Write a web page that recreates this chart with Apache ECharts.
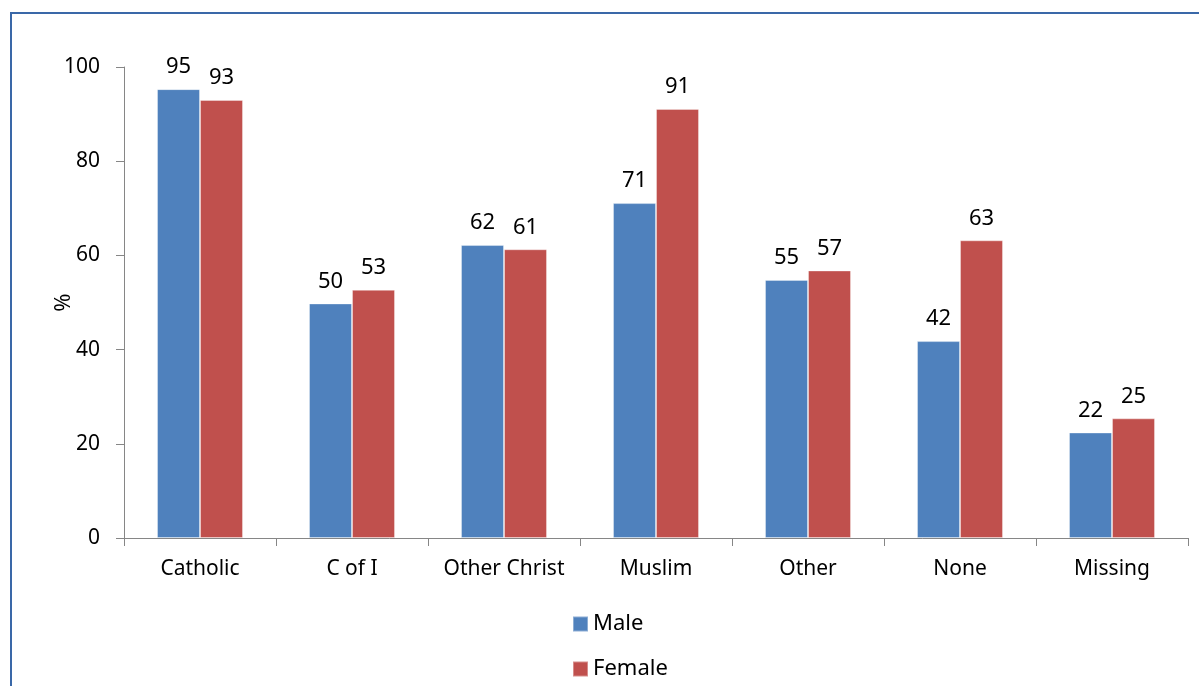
<!DOCTYPE html>
<html><head><meta charset="utf-8">
<script src="https://cdn.jsdelivr.net/npm/echarts@6/dist/echarts.min.js"></script>
<style>html,body{margin:0;padding:0;background:#fff}#c{width:1199px;height:686px;position:relative}
#frame{position:absolute;left:10px;top:12px;right:0;bottom:0;border-left:2px solid #3a68a8;border-top:2px solid #3a68a8;pointer-events:none}</style>
</head><body><div id="c"></div><div id="frame"></div>
<script>
const categories = ['Catholic','C of I','Other Christ','Muslim','Other','None','Missing'];
const maleValues = [95.3, 49.8, 62.2, 71.1, 54.8, 41.8, 22.4];
const femaleValues = [93.0, 52.7, 61.3, 91.1, 56.8, 63.2, 25.4];
const yTicks = [0, 20, 40, 60, 80, 100];
const font = 'Noto Sans';
const chart = echarts.init(document.getElementById('c'));
const lbl = {show:true, position:'top', distance:11, color:'#000', fontSize:22, fontFamily:font, formatter:p=>Math.round(p.value)};
chart.setOption({
  animation:false,
  textStyle:{fontFamily:font},
  grid:{left:124, right:11, top:67, bottom:148},
  legend:{orient:'vertical', left:567, top:608, itemGap:23, itemWidth:15, itemHeight:15, icon:'rect',
    textStyle:{fontSize:22, color:'#000', fontFamily:font, padding:[0,0,0,0]}, data:['Male','Female']},
  xAxis:{type:'category', data:categories,
    axisLine:{lineStyle:{color:'#868686', width:1}},
    axisTick:{show:true, length:8, interval:0, lineStyle:{color:'#868686'}},
    axisLabel:{color:'#000', fontSize:21, fontFamily:font, margin:21, interval:0, hideOverlap:false}},
  yAxis:{type:'value', min:yTicks[0], max:yTicks[yTicks.length-1], interval:20,
    name:'%', nameLocation:'middle', nameGap:49, nameRotate:90, nameMoveOverlap:false,
    nameTextStyle:{fontSize:22, color:'#000', fontFamily:font},
    axisLine:{show:true, lineStyle:{color:'#868686'}},
    axisTick:{show:true, length:8, inside:false, lineStyle:{color:'#868686'}},
    splitLine:{show:false},
    axisLabel:{color:'#000', fontSize:21, fontFamily:font, margin:24}},
  series:[
    {name:'Male', type:'bar', data:maleValues, barWidth:43, barGap:'0%', itemStyle:{color:'#4f81bd', borderColor:'rgba(255,255,255,0.35)', borderWidth:1}, label:lbl},
    {name:'Female', type:'bar', data:femaleValues, barWidth:43, itemStyle:{color:'#c0504d', borderColor:'rgba(255,255,255,0.35)', borderWidth:1}, label:lbl}
  ]
});
</script></body></html>
